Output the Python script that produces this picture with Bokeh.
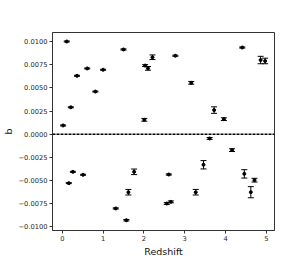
from bokeh.plotting import figure
from bokeh.models import (Whisker, ColumnDataSource, FixedTicker, CustomJSTickFormatter,
                          Span, TeeHead, Range1d)
from bokeh.embed import file_html
from bokeh.resources import INLINE

redshift = [0.02, 0.11, 0.16, 0.21, 0.26, 0.36, 0.51, 0.61, 0.81, 1.00,
            1.31, 1.50, 1.57, 1.62, 1.76, 2.01, 2.03, 2.10, 2.21, 2.56,
            2.61, 2.66, 2.77, 3.16, 3.27, 3.46, 3.61, 3.72, 3.96, 4.16,
            4.41, 4.46, 4.62, 4.71, 4.86, 4.97]
b_values = [0.00094, 0.0100, -0.00528, 0.0029, -0.00406, 0.0063, -0.00438, 0.00709, 0.0046, 0.00695,
            -0.00801, 0.00914, -0.00928, -0.00626, -0.00406, 0.00155, 0.0074, 0.0071, 0.0083, -0.00748,
            -0.00435, -0.0073, 0.00846, 0.00554, -0.00626, -0.0033, -0.00046, 0.0026, 0.00162, -0.00172,
            0.00935, -0.00428, -0.00626, -0.00496, 0.0080, 0.0079]
b_errors = [0.00005, 0.00005, 0.00005, 0.00005, 0.00005, 0.00005, 0.00005, 0.00005, 0.00005, 0.00005,
            0.00006, 0.00006, 0.00008, 0.0003, 0.0003, 0.00015, 0.0001, 0.0002, 0.00025, 0.0001,
            0.00006, 0.0001, 0.00006, 0.00015, 0.0003, 0.00045, 0.0001, 0.00035, 0.00015, 0.00015,
            0.00006, 0.00045, 0.0006, 0.0002, 0.0004, 0.0003]
x_ticks = [0, 1, 2, 3, 4, 5]
y_ticks = [-0.01, -0.0075, -0.005, -0.0025, 0.0, 0.0025, 0.005, 0.0075, 0.01]

src = ColumnDataSource(dict(
    x=redshift, y=b_values,
    lo=[v - e for v, e in zip(b_values, b_errors)],
    hi=[v + e for v, e in zip(b_values, b_errors)],
))

p = figure(frame_width=222, frame_height=198, output_backend="svg", toolbar_location=None,
           x_range=Range1d(-0.24, 5.2), y_range=Range1d(-0.01039, 0.01097),
           min_border_left=10, min_border_right=23, min_border_top=32, min_border_bottom=10,
           background_fill_color="white", border_fill_color="white")

p.xgrid.visible = False
p.ygrid.visible = False
p.outline_line_color = "#333333"
p.outline_line_width = 1
p.outline_line_alpha = 1

p.add_layout(Span(location=0, dimension="width", line_dash="3 1", line_width=1.5, line_color="black"))

p.add_layout(Whisker(source=src, base="x", upper="hi", lower="lo", dimension="height",
                     line_color="black", line_width=1,
                     upper_head=TeeHead(size=6, line_color="black", line_width=1),
                     lower_head=TeeHead(size=6, line_color="black", line_width=1)))
p.scatter("x", "y", source=src, size=3, color="black")

p.xaxis.ticker = FixedTicker(ticks=x_ticks)
p.yaxis.ticker = FixedTicker(ticks=y_ticks)
p.yaxis.formatter = CustomJSTickFormatter(code="""
    const s = Math.abs(tick).toFixed(4);
    return (tick < -1e-12 ? '\u2212' : '') + s;
""")
for ax in (p.xaxis, p.yaxis):
    ax.major_label_text_font = "DejaVu Sans"
    ax.major_label_text_font_size = "6.7px"
    ax.major_label_text_color = "#222222"
    ax.major_tick_out = 3
    ax.major_tick_in = 0
    ax.minor_tick_line_color = None
    ax.axis_line_color = "#333333"
    ax.major_tick_line_color = "#333333"
    ax.major_label_standoff = 2
    ax.axis_label_text_font = "DejaVu Sans"
    ax.axis_label_text_font_size = "9.5px"
    ax.axis_label_text_font_style = "normal"
    ax.axis_label_text_color = "#111111"
    ax.axis_label_standoff = 2
p.yaxis.axis_label_standoff = 1
p.xaxis.axis_label = "Redshift"
p.yaxis.axis_label = "b"

open("out.html", "w").write(file_html(p, INLINE))
